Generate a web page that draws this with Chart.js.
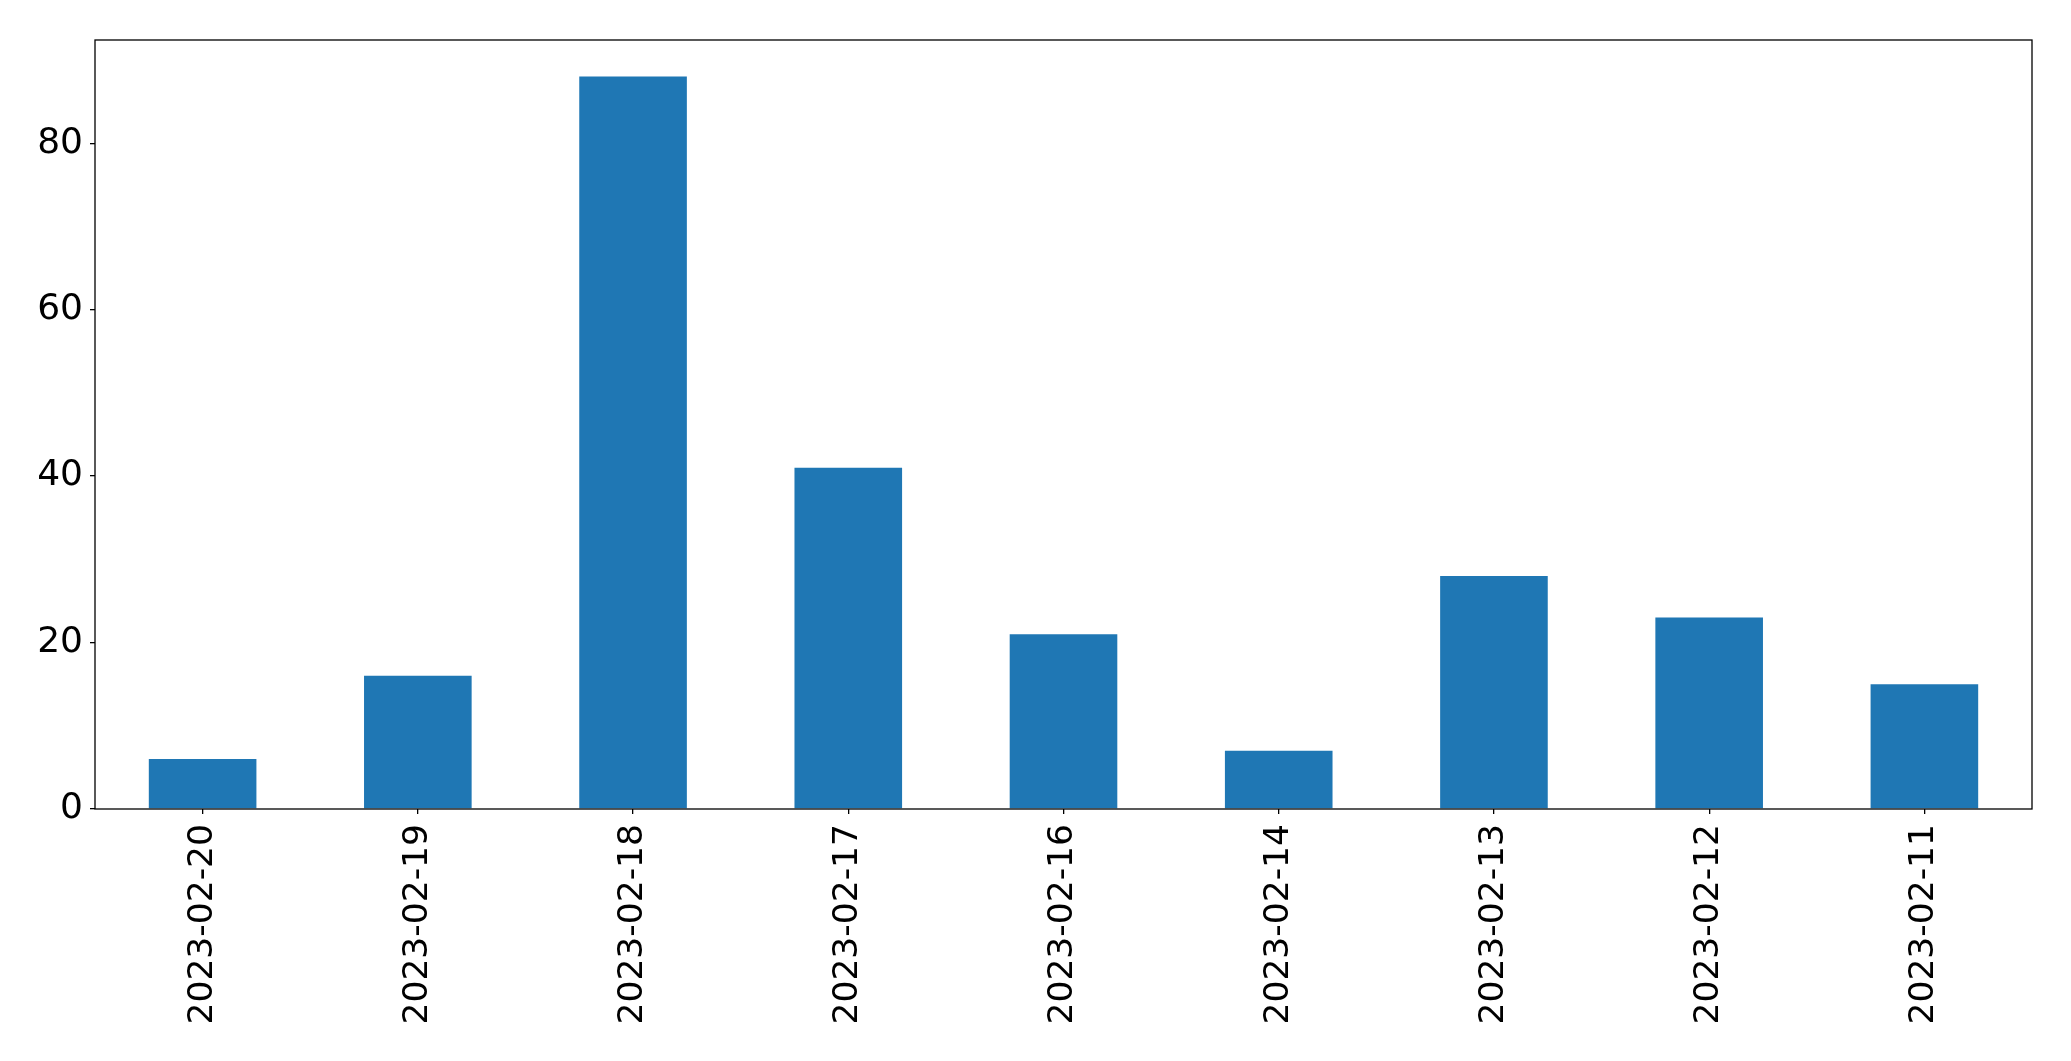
<!DOCTYPE html>
<html>
<head>
<meta charset="utf-8">
<script src="https://cdn.jsdelivr.net/npm/chart.js@4.4.0/dist/chart.umd.min.js"></script>
<style>
  html, body { margin: 0; padding: 0; background: #fff; }
  #wrap { width: 2071px; height: 1061px; }
</style>
</head>
<body>
<div id="wrap"><canvas id="chart" width="2071" height="1061"></canvas></div>
<script>
// values
const dates = ["2023-02-20", "2023-02-19", "2023-02-18", "2023-02-17", "2023-02-16",
               "2023-02-14", "2023-02-13", "2023-02-12", "2023-02-11"];
const counts = [6, 16, 88, 41, 21, 7, 28, 23, 15];
const yTicks = [0, 20, 40, 60, 80];

const yMax = Math.max(...counts) * 1.05;

// frame around the plot area, like matplotlib's spines
const frame = {
  id: "frame",
  afterDraw(chart) {
    const { ctx, chartArea: a } = chart;
    ctx.save();
    ctx.strokeStyle = "#000";
    ctx.lineWidth = 1.3;
    ctx.strokeRect(a.left, a.top, a.right - a.left, a.bottom - a.top);
    ctx.restore();
  }
};

const family = "'DejaVu Sans', sans-serif";

new Chart(document.getElementById("chart").getContext("2d"), {
  type: "bar",
  data: {
    labels: dates,
    datasets: [{
      data: counts,
      backgroundColor: "#1f77b4",
      borderWidth: 0,
      categoryPercentage: 1,
      barPercentage: 0.5
    }]
  },
  options: {
    responsive: false,
    animation: false,
    layout: { padding: { top: 40, right: 39, left: 0, bottom: 0 } },
    plugins: { legend: { display: false }, tooltip: { enabled: false } },
    scales: {
      x: {
        offset: true,
        border: { display: false },
        grid: { offset: false, drawOnChartArea: false, tickLength: 5, color: "#000", lineWidth: 1.3 },
        ticks: { color: "#000", font: { family, size: 34.5 }, maxRotation: 90, minRotation: 90, padding: 10, autoSkip: false },
        afterFit(s) { s.height = 252; }
      },
      y: {
        min: 0,
        max: yMax,
        border: { display: false },
        grid: { drawOnChartArea: false, tickLength: 5, color: "#000", lineWidth: 1.3 },
        ticks: { color: "#000", font: { family, size: 36 }, padding: 7 },
        afterBuildTicks(s) { s.ticks = yTicks.map(v => ({ value: v })); },
        afterFit(s) { s.width = 95; }
      }
    }
  },
  plugins: [frame]
});
</script>
</body>
</html>
